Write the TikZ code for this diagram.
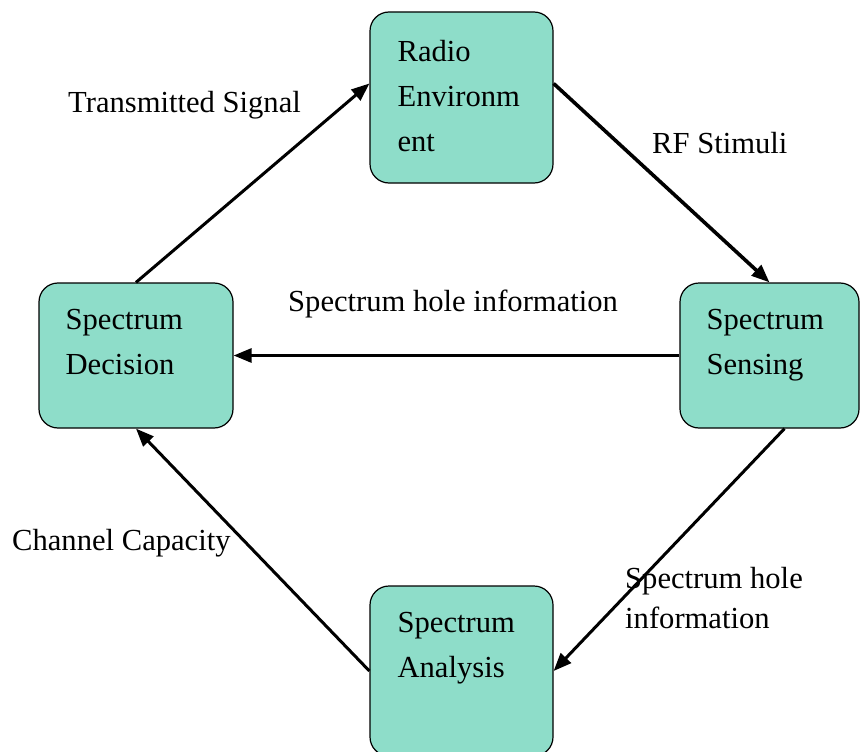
\documentclass[tikz,border=0pt]{standalone}
\usepackage{fontspec}
\setmainfont{Liberation Serif}
\usetikzlibrary{arrows.meta}
\definecolor{boxfill}{RGB}{142,221,201}
\tikzset{
  stagebox/.style={draw=black, line width=1.2pt, fill=boxfill, rounded corners=19pt,
    inner sep=0pt},
  boxtext/.style={anchor=north west, inner sep=0pt, align=left,
    font=\fontsize{30.6}{45}\selectfont},
  flowlabel/.style={inner sep=0pt, align=left, font=\fontsize{30.6}{40}\selectfont},
  flow/.style={line width=3pt, -{Triangle[length=18pt,width=14pt]}},
}
\begin{document}
\begin{tikzpicture}[x=1pt, y=-1pt]
\useasboundingbox (0,0) rectangle (860,752);

% the four stages of the cognitive cycle
\node[stagebox, minimum width=183pt, minimum height=171pt] (rad) at (461.5,97.5) {};
\node[stagebox, minimum width=194pt, minimum height=145pt] (dec) at (136,355.5) {};
\node[stagebox, minimum width=179pt, minimum height=145pt] (sen) at (769.5,355.5) {};
\node[stagebox, minimum width=183pt, minimum height=170pt] (ana) at (461.5,671) {};

\node[boxtext] (rad-t) at ([xshift=28pt,yshift=-29pt]rad.north west) {Radio\\Environm\\ent};
\node[boxtext] (dec-t) at ([xshift=27pt,yshift=-27pt]dec.north west) {Spectrum\\Decision};
\node[boxtext] (sen-t) at ([xshift=27pt,yshift=-27pt]sen.north west) {Spectrum\\Sensing};
\node[boxtext] (ana-t) at ([xshift=28pt,yshift=-27pt]ana.north west) {Spectrum\\Analysis};

% connectors
\draw[flow] (dec.north) -- ([yshift=14pt]rad.west);
\draw[flow, line width=3.6pt] ([yshift=14pt]rad.east) -- (sen.north);
\draw[flow] (sen.west) -- (dec.east);
\draw[flow] ([xshift=15pt]sen.south) -- (ana.east);
\draw[flow] (ana.west) -- (dec.south);

% connector labels
\node[flowlabel, anchor=base west] (l-tx) at (68,113) {Transmitted Signal};
\node[flowlabel, anchor=base west] (l-rf) at (652,153) {RF Stimuli};
\node[flowlabel, anchor=base west] (l-hole) at (288,311) {Spectrum hole information};
\node[flowlabel, anchor=base west] (l-cap) at (12,550) {Channel Capacity};
\node[flowlabel, anchor=north west] (l-hole2) at (625,567) {Spectrum hole\\information};
\end{tikzpicture}
\end{document}
